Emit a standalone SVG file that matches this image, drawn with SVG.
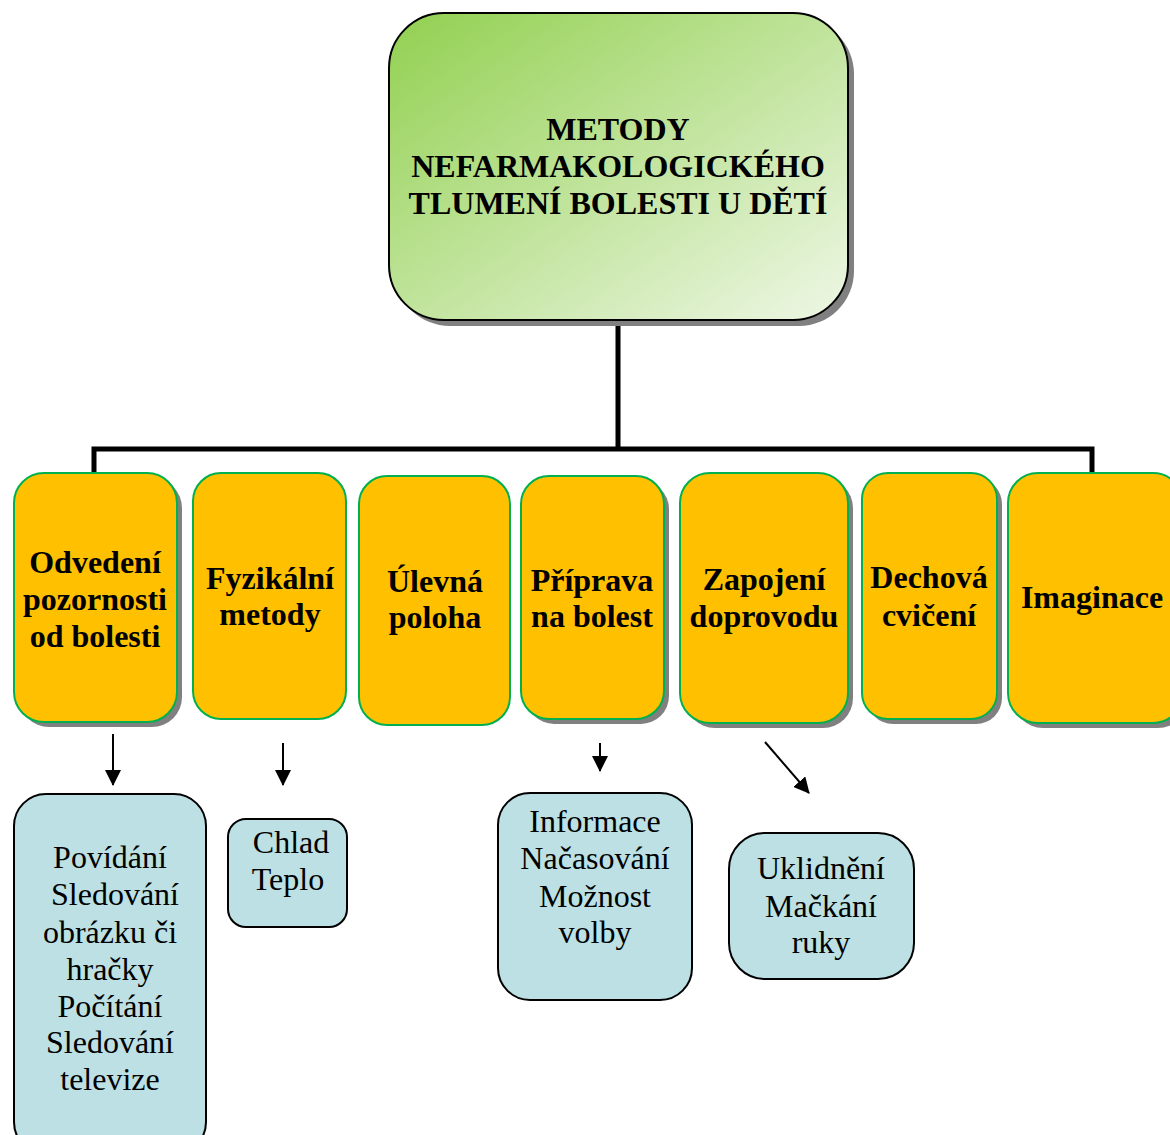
<svg xmlns="http://www.w3.org/2000/svg" width="1170" height="1135" viewBox="0 0 1170 1135">
<defs>
<linearGradient id="g" x1="0" y1="0" x2="1" y2="1">
<stop offset="0" stop-color="#92D050"/>
<stop offset="1" stop-color="#EEF7E6"/>
</linearGradient>
<marker id="ahb" markerWidth="16" markerHeight="16" refX="15" refY="8" orient="auto" markerUnits="userSpaceOnUse" viewBox="0 0 16 16">
<path d="M0,0 L16,8 L0,16 z" fill="#000"/>
</marker>
</defs>
<style>
.sh{fill:#808080}
.cat{fill:#FFC000;stroke:#00B050;stroke-width:2}
.sub{fill:#BCE0E3;stroke:#000;stroke-width:2}
.bt{font-family:"Liberation Serif","Times New Roman",serif;font-weight:bold;font-size:32px;text-anchor:middle;fill:#000}
.nt{font-family:"Liberation Serif","Times New Roman",serif;font-size:32px;text-anchor:middle;fill:#000}
.ln{stroke:#000;stroke-width:5;fill:none}
.ar{stroke:#000;stroke-width:2;fill:none;marker-end:url(#ahb)}
</style>

<g id="connectors">
<path class="ln" d="M618,320 V449"/>
<path class="ln" d="M94,474 V449 H1092 V475"/>
<line class="ar" x1="113" y1="734" x2="113" y2="785"/>
<line class="ar" x1="283" y1="743" x2="283" y2="785"/>
<line class="ar" x1="600" y1="743" x2="600" y2="771"/>
<line class="ar" x1="765" y1="742" x2="809" y2="793"/>
</g>

<g id="root">
<rect class="sh" x="395" y="19" width="459" height="307" rx="55"/>
<rect x="389" y="13" width="459" height="307" rx="55" fill="url(#g)" stroke="#000" stroke-width="2"/>
<text class="bt" x="618" y="140">METODY</text>
<text class="bt" x="618" y="177">NEFARMAKOLOGICKÉHO</text>
<text class="bt" x="618" y="214">TLUMENÍ BOLESTI U DĚTÍ</text>
</g>

<g id="n1">
<rect class="sh" x="19" y="478" width="163" height="249" rx="30"/>
<rect class="cat" x="14" y="473" width="163" height="249" rx="30"/>
<text class="bt" x="95" y="573">Odvedení</text>
<text class="bt" x="95" y="610">pozornosti</text>
<text class="bt" x="95" y="647">od bolesti</text>
</g>

<g id="n2">
<rect class="cat" x="193" y="473" width="153" height="246" rx="28"/>
<text class="bt" x="270" y="589">Fyzikální</text>
<text class="bt" x="270" y="625">metody</text>
</g>

<g id="n3">
<rect class="cat" x="359" y="476" width="151" height="249" rx="28"/>
<text class="bt" x="435" y="592">Úlevná</text>
<text class="bt" x="435" y="628">poloha</text>
</g>

<g id="n4">
<rect class="sh" x="526" y="481" width="143" height="243" rx="28"/>
<rect class="cat" x="521" y="476" width="143" height="243" rx="28"/>
<text class="bt" x="592" y="591">Příprava</text>
<text class="bt" x="592" y="627">na bolest</text>
</g>

<g id="n5">
<rect class="sh" x="685" y="478" width="168" height="250" rx="30"/>
<rect class="cat" x="680" y="473" width="168" height="250" rx="30"/>
<text class="bt" x="764" y="590">Zapojení</text>
<text class="bt" x="764" y="627">doprovodu</text>
</g>

<g id="n6">
<rect class="sh" x="867" y="478" width="135" height="246" rx="26"/>
<rect class="cat" x="862" y="473" width="135" height="246" rx="26"/>
<text class="bt" x="929" y="588">Dechová</text>
<text class="bt" x="929" y="626">cvičení</text>
</g>

<g id="n7">
<rect class="sh" x="1013" y="478" width="175" height="250" rx="30"/>
<rect class="cat" x="1008" y="473" width="175" height="250" rx="30"/>
<text class="bt" x="1092" y="608">Imaginace</text>
</g>

<g id="s1">
<rect class="sub" x="14" y="794" width="192" height="360" rx="32"/>
<text class="nt" x="110" y="868">Povídání</text>
<text class="nt" x="115" y="905">Sledování</text>
<text class="nt" x="110" y="943">obrázku či</text>
<text class="nt" x="110" y="980">hračky</text>
<text class="nt" x="110" y="1017">Počítání</text>
<text class="nt" x="110" y="1053">Sledování</text>
<text class="nt" x="110" y="1090">televize</text>
</g>

<g id="s2">
<rect class="sub" x="228" y="819" width="119" height="108" rx="18"/>
<text class="nt" x="291" y="853">Chlad</text>
<text class="nt" x="288" y="890">Teplo</text>
</g>

<g id="s3">
<rect class="sub" x="498" y="793" width="194" height="207" rx="32"/>
<text class="nt" x="595" y="832">Informace</text>
<text class="nt" x="595" y="869">Načasování</text>
<text class="nt" x="595" y="907">Možnost</text>
<text class="nt" x="595" y="943">volby</text>
</g>

<g id="s4">
<rect class="sub" x="729" y="833" width="185" height="146" rx="36"/>
<text class="nt" x="821" y="879">Uklidnění</text>
<text class="nt" x="821" y="917">Mačkání</text>
<text class="nt" x="821" y="953">ruky</text>
</g>
</svg>
